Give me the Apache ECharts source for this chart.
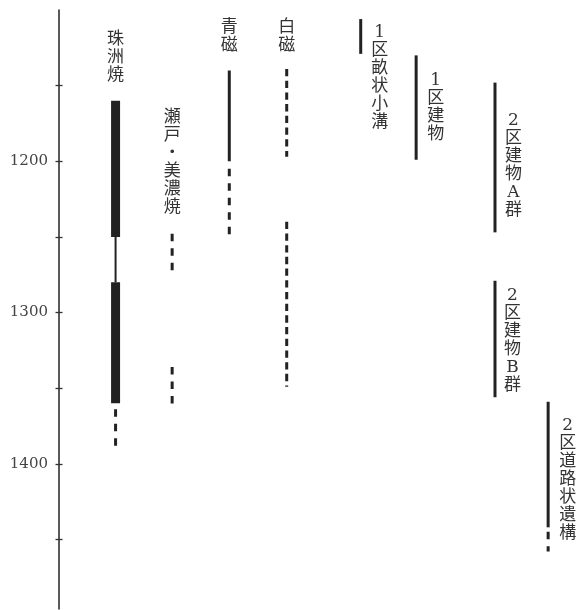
<!DOCTYPE html>
<html><head><meta charset="utf-8">
<script src="https://cdn.jsdelivr.net/npm/echarts@6/dist/echarts.min.js"></script>
<style>html,body{margin:0;padding:0;background:#fff}#c{width:579px;height:610px}</style>
</head><body><div id="c"></div>
<script>
// ---- data ----
const columns = ['珠洲焼','瀬戸・美濃焼','青磁','白磁','1区畝状小溝','1区建物','2区建物A群','2区建物B群','2区道路状遺構'];
const yearTicks = [1150,1200,1250,1300,1350,1400,1450];
const yearLabels = [1200,1300,1400];
// segments per column: [startYear, endYear, kind]
const suzu      = [[1160,1250,'thick'],[1250,1280,'thin'],[1280,1360,'thick'],[1364,1388,'dash']];
const setoMino  = [[1248,1273,'dash'],[1336,1361,'dash']];
const seiji     = [[1140,1200,'solid'],[1205,1249,'dash']];
const hakuji    = [[1139,1197,'dense'],[1240,1349,'dense']];
const ku1Mizo   = [[1106,1129,'solid']];
const ku1Bldg   = [[1130,1199,'solid']];
const ku2BldgA  = [[1148,1247,'solid']];
const ku2BldgB  = [[1279,1356,'solid']];
const ku2Road   = [[1359,1442,'solid'],[1445,1458,'dash']];
const segmentsByColumn = [suzu,setoMino,seiji,hakuji,ku1Mizo,ku1Bldg,ku2BldgA,ku2BldgB,ku2Road];

// ---- layout (not data) ----
const colPos   = [0.99,1.98,2.98,3.985,5.28,6.25,7.63,7.63,8.56];
const labelTop = [1113.5,1165,1105.5,1105.5,1109,1141,1167,1283,1369];
const labelDx  = [0,0,0,0,19,19.5,18.5,17.5,19.5];
const kindStyle = {
  thick:{w:9, dash:null},
  thin:{w:2, dash:null},
  solid:{w:3, dash:null},
  dash:{w:3, dash:[7.5,7]},
  dense:{w:3, dash:[7.3,4.4]}
};

const segData = [];
segmentsByColumn.forEach((segs,ci)=>segs.forEach(s=>segData.push([colPos[ci], s[0], s[1], s[2]])));
const labelData = columns.map((n,i)=>[colPos[i], labelTop[i], i]);

const chart = echarts.init(document.getElementById('c'));
const yBase = {type:'value', inverse:true, min:1100, max:1496, position:'left', splitLine:{show:false}};
chart.setOption({
  animation:false,
  grid:{left:59, top:10, width:520, height:599},
  xAxis:{type:'value', min:0, max:9.1, show:false},
  yAxis:[
    Object.assign({}, yBase, {
      axisLine:{show:true, lineStyle:{color:'#222', width:1.5}},
      axisTick:{show:true, length:3.5, customValues:yearTicks, lineStyle:{color:'#333', width:1.3}},
      axisLabel:{show:true, customValues:yearLabels, formatter:v=>String(v), margin:11, color:'#444', fontFamily:'DejaVu Serif', fontSize:15}
    }),
    Object.assign({}, yBase, {
      axisLine:{show:false},
      axisTick:{show:true, inside:true, length:3.5, customValues:yearTicks, lineStyle:{color:'#333', width:1.3}},
      axisLabel:{show:false}
    })
  ],
  series:[
    {
      type:'custom', coordinateSystem:'cartesian2d', data:segData,
      renderItem:function(params, api){
        const p1 = api.coord([api.value(0), api.value(1)]);
        const p2 = api.coord([api.value(0), api.value(2)]);
        const k = kindStyle[segData[params.dataIndex][3]];
        return {type:'line', shape:{x1:p1[0], y1:p1[1], x2:p2[0], y2:p2[1]},
          style:{stroke:'#222', lineWidth:k.w, lineDash:k.dash, lineCap:'butt'}};
      }
    },
    {
      type:'custom', coordinateSystem:'cartesian2d', data:labelData,
      renderItem:function(params, api){
        const i = params.dataIndex;
        const p = api.coord([api.value(0), api.value(1)]);
        return {type:'text', x:p[0]+labelDx[i], y:p[1],
          style:{text:Array.from(columns[i]).join('\n'), fill:'#333', fontSize:17, lineHeight:18,
            fontFamily:'"DejaVu Serif", "Noto Sans CJK JP"', align:'center', verticalAlign:'top'}};
      }
    }
  ]
});
</script></body></html>
